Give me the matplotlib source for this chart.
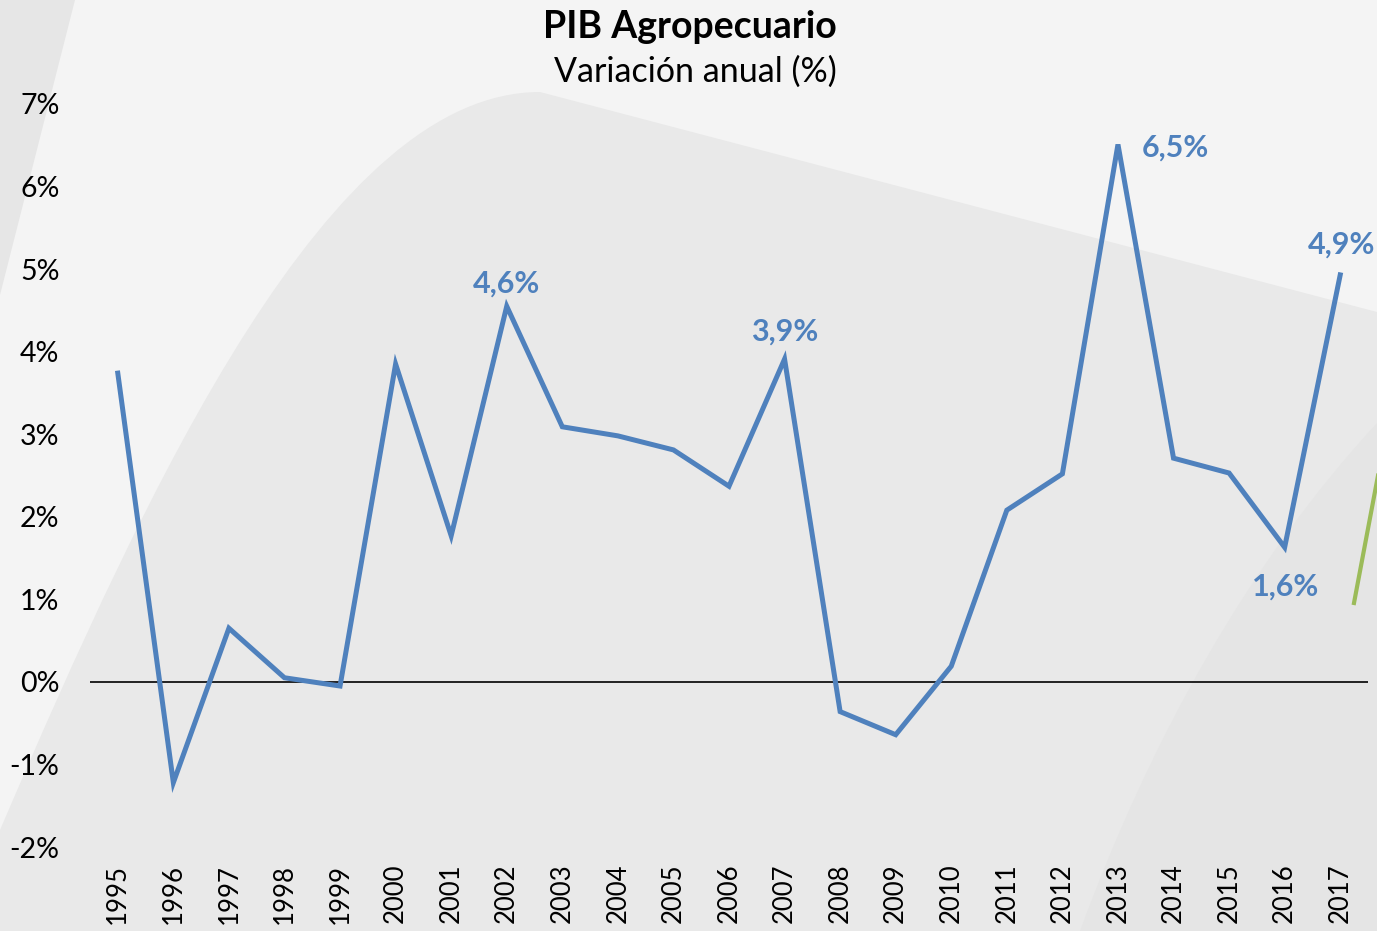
import matplotlib
matplotlib.use("Agg")
import matplotlib.pyplot as plt
from matplotlib.path import Path
from matplotlib.patches import PathPatch
from matplotlib.lines import Line2D

plt.rcParams['font.family'] = ['Lato', 'DejaVu Sans']

# Data
years = list(range(1995, 2018))
variacion = [3.74, -1.22, 0.65, 0.05, -0.05, 3.85, 1.77, 4.55, 3.09, 2.98, 2.81,
             2.37, 3.91, -0.36, -0.64, 0.19, 2.08, 2.52, 6.51, 2.71, 2.53, 1.63, 4.93]
# labelled points: year -> (text, offset in points)
etiquetas = {
    2002: ("4,6%", (0, 16)),
    2007: ("3,9%", (0, 20)),
    2013: ("6,5%", (41, -2)),
    2016: ("1,6%", (1, -28)),
    2017: ("4,9%", (1, 22)),
}
y_ticks = [-2, -1, 0, 1, 2, 3, 4, 5, 6, 7]

W, H = 1377, 931
BLUE = '#4f81bd'

fig = plt.figure(figsize=(W / 100, H / 100), dpi=100)
fig.patch.set_facecolor('#f4f4f4')


def px(x, y):
    # pixel position -> figure fraction
    return (x / W, 1 - y / H)


def add_shape(verts, codes, color):
    path = Path([px(*v) for v in verts], codes)
    fig.patches.append(PathPatch(path, transform=fig.transFigure,
                                 facecolor=color, edgecolor='none', zorder=-10))


# decorative background shapes
add_shape([(0, 0), (75, 0), (0, 295), (0, 0)],
          [Path.MOVETO, Path.LINETO, Path.LINETO, Path.CLOSEPOLY], '#e6e6e6')
add_shape([(0, 830), (150, 480), (330, 92), (540, 92), (1377, 312), (1377, 931), (0, 931), (0, 830)],
          [Path.MOVETO, Path.CURVE4, Path.CURVE4, Path.CURVE4, Path.LINETO, Path.LINETO,
           Path.LINETO, Path.CLOSEPOLY], '#e9e9e9')
add_shape([(1080, 931), (1150, 740), (1250, 560), (1377, 423), (1377, 931), (1080, 931)],
          [Path.MOVETO, Path.CURVE4, Path.CURVE4, Path.CURVE4, Path.LINETO, Path.CLOSEPOLY],
          '#e5e5e5')
g0, g1 = px(1354, 603), px(1380, 465)
fig.lines.append(Line2D([g0[0], g1[0]], [g0[1], g1[1]], transform=fig.transFigure,
                        color='#9bbb59', lw=3, zorder=-5))

ax = fig.add_axes([90 / W, 1 - 847 / H, (1368 - 90) / W, (847 - 104) / H])
ax.set_facecolor('none')
ax.set_zorder(1)

ax.plot(years, variacion, color=BLUE, lw=3.6, solid_joinstyle='miter', zorder=3)
ax.axhline(0, color='black', lw=1.2, zorder=2)

for yr, (txt, off) in etiquetas.items():
    ax.annotate(txt, (yr, variacion[years.index(yr)]), xytext=off,
                textcoords='offset points', ha='center', va='center',
                color=BLUE, fontsize=22, fontweight='bold')

ax.set_xlim(1994.5, 2017.5)
ax.set_ylim(-2, 7)
ax.set_yticks(y_ticks)
ax.set_yticklabels([f"{v}%" for v in y_ticks], fontsize=20.5)
ax.set_xticks(years)
ax.set_xticklabels([str(y) for y in years], rotation=90, fontsize=18.5)
ax.tick_params(length=0)
ax.tick_params(axis='y', pad=22)
ax.tick_params(axis='x', pad=12)
for s in ax.spines.values():
    s.set_visible(False)

fig.text(690 / W, 1 - 27 / H, "PIB Agropecuario", ha='center', va='center',
         fontsize=27, fontweight='bold')
fig.text(695 / W, 1 - 72 / H, "Variación anual (%)", ha='center', va='center',
         fontsize=24.5)

fig.savefig("out.png", dpi=100, facecolor=fig.get_facecolor())
